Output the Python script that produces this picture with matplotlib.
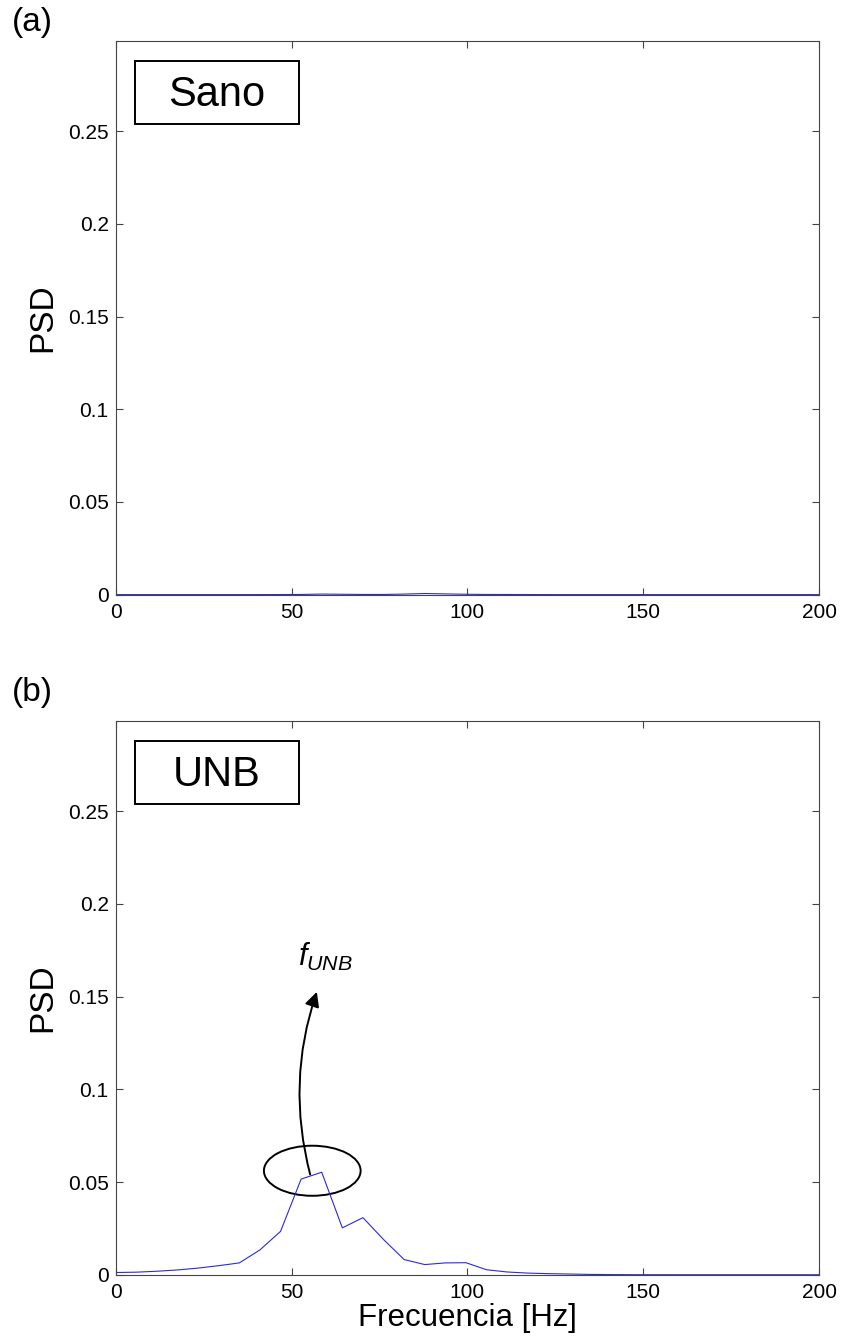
import matplotlib
matplotlib.use("Agg")
import matplotlib.pyplot as plt
from matplotlib.patches import Rectangle, Ellipse, FancyArrowPatch

plt.rcParams["font.family"] = ["Liberation Sans", "DejaVu Sans"]
plt.rcParams["mathtext.fontset"] = "custom"
plt.rcParams["mathtext.it"] = "Liberation Sans:italic"
plt.rcParams["mathtext.rm"] = "Liberation Sans"

# frequency bins [Hz]
freq = [0.0, 5.86, 11.72, 17.58, 23.44, 29.30, 35.16, 41.02, 46.88, 52.73,
        58.59, 64.45, 70.31, 76.17, 82.03, 87.89, 93.75, 99.61, 105.47, 111.33,
        117.19, 123.05, 128.91, 134.77, 140.63, 146.48, 152.34, 158.20, 164.06,
        169.92, 175.78, 181.64, 187.50, 193.36, 199.22, 205.08]

psd_sano = [0.00002, 0.00002, 0.00002, 0.00002, 0.00002, 0.00002, 0.00002,
            0.00003, 0.00005, 0.0001, 0.0003, 0.0002, 0.0001, 0.0001, 0.0003,
            0.0006, 0.0004, 0.0002, 0.0001, 0.00008, 0.00005, 0.00003, 0.00002,
            0.00002, 0.00002, 0.00002, 0.00002, 0.00002, 0.00002, 0.00002,
            0.00002, 0.00002, 0.00002, 0.00002, 0.00002, 0.00002]

psd_unb = [0.0012, 0.0014, 0.0019, 0.0026, 0.0036, 0.0049, 0.0064, 0.0134,
           0.0234, 0.0516, 0.0553, 0.0253, 0.0308, 0.0190, 0.0082, 0.0055,
           0.0064, 0.0065, 0.0027, 0.0015, 0.0009, 0.0006, 0.0004, 0.0002,
           0.0001, 0.00005, 0.00004, 0.00003, 0.00003, 0.00002, 0.00002,
           0.00002, 0.00002, 0.00002, 0.00002, 0.00002]

yticks = [0, 0.05, 0.1, 0.15, 0.2, 0.25]
ytick_labels = ["0", "0.05", "0.1", "0.15", "0.2", "0.25"]
xticks = [0, 50, 100, 150, 200]

fig = plt.figure(figsize=(8.42, 13.42), dpi=100)
ax1 = fig.add_axes([0.1374, 0.5569, 0.8353, 0.4124])
ax2 = fig.add_axes([0.1374, 0.0501, 0.8353, 0.4124])


def style(ax, series, label):
    ax.plot(freq, series, color="#2a2ae0", lw=0.8)
    ax.set_xlim(0, 200)
    ax.set_ylim(0, 0.2985)
    ax.set_xticks(xticks)
    ax.set_yticks(yticks)
    ax.set_yticklabels(ytick_labels)
    ax.tick_params(direction="in", top=True, right=True, length=5,
                   width=0.8, color="#444444", labelsize=15)
    ax.tick_params(axis="y", pad=5)
    ax.tick_params(axis="x", pad=6)
    for s in ax.spines.values():
        s.set_color("#444444")
        s.set_linewidth(0.8)
    ax.set_ylabel("PSD", fontsize=24, labelpad=7)
    ax.add_patch(Rectangle((0.0274, 0.8506), 0.2332, 0.1138,
                           transform=ax.transAxes, fill=False,
                           ec="black", lw=1.4))
    ax.text(0.144, 0.9035, label, transform=ax.transAxes, fontsize=30,
            ha="center", va="center")


style(ax1, psd_sano, "Sano")
style(ax2, psd_unb, "UNB")
ax2.set_xlabel("Frecuencia [Hz]", fontsize=22.5, labelpad=1)

# annotation on the UNB peak
ax2.add_patch(Ellipse((55.9, 0.0561), 27.5, 0.0270, fill=False,
                      ec="black", lw=1.4))
arrow = FancyArrowPatch((55.3, 0.0541), (57.2, 0.1526),
                        connectionstyle="arc3,rad=-0.15",
                        arrowstyle="-|>", mutation_scale=22,
                        color="black", lw=1.4, shrinkA=0, shrinkB=0)
ax2.add_patch(arrow)
ax2.text(59.5, 0.1715, r"$f_{UNB}$", fontsize=22, ha="center", va="center")

fig.text(0.014, 1 - 23 / 1342, "(a)", fontsize=24, ha="left", va="center")
fig.text(0.014, 1 - 692 / 1342, "(b)", fontsize=24, ha="left", va="center")

fig.savefig("out.png", dpi=100)
